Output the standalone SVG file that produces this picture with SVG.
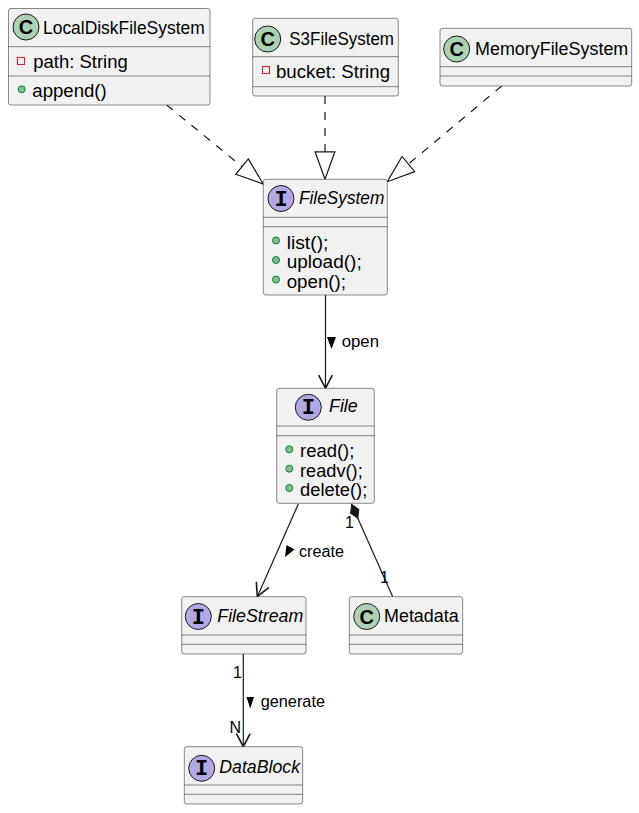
<svg xmlns="http://www.w3.org/2000/svg" width="639" height="813" viewBox="0 0 639 813">
<style>
.box{fill:#F1F1F1;stroke:#181818;stroke-width:0.5}
.sep{stroke:#181818;stroke-width:0.5}
.t{font-family:"Liberation Sans",Arial,sans-serif;font-size:17.5px;fill:#000}
.it{font-style:italic}
.lbl{font-family:"Liberation Sans",Arial,sans-serif;font-size:16px;fill:#000}
.cc{fill:#ADD1B2;stroke:#181818;stroke-width:1}
.ci{fill:#B4A7E5;stroke:#181818;stroke-width:1}
.cg{font-family:"Liberation Sans",Arial,sans-serif;font-size:20px;font-weight:bold;fill:#000;text-anchor:middle}
.ig{font-family:"Liberation Mono","Courier New",monospace;font-size:22px;font-weight:bold;fill:#000;text-anchor:middle}
.priv{fill:none;stroke:#C82930;stroke-width:1.1}
.pub{fill:#84BE84;stroke:#038048;stroke-width:1}
.ln{fill:none;stroke:#181818;stroke-width:1.2}
.dash{stroke-dasharray:8,8}
</style>
<defs>
<marker id="arr" markerUnits="userSpaceOnUse" markerWidth="16" markerHeight="16" viewBox="0 0 14 14" refX="12.5" refY="7" orient="auto" overflow="visible">
<path d="M1,1 L12.5,7 L1,13" fill="none" stroke="#181818" stroke-width="1.4"/>
</marker>
<marker id="tri" markerUnits="userSpaceOnUse" markerWidth="30" markerHeight="22" viewBox="0 0 27 20" refX="26" refY="10" orient="auto" overflow="visible">
<path d="M1,1 L26,10 L1,19 Z" fill="#FFFFFF" stroke="#181818" stroke-width="1.1"/>
</marker>
<marker id="dia" markerUnits="userSpaceOnUse" markerWidth="18" markerHeight="12" viewBox="-1 -6 18 12" refX="0" refY="0" orient="auto" overflow="visible">
<path d="M0,0 L7.5,-4.5 L15,0 L7.5,4.5 Z" fill="#181818" stroke="#181818" stroke-width="1"/>
</marker>
</defs>
<rect width="639" height="813" fill="#FFFFFF"/>

<g id="connectors">
<path class="ln dash" d="M166.7,105 L263.3,184" marker-end="url(#tri)"/>
<path class="ln dash" d="M325,96 L325,179.3" marker-end="url(#tri)"/>
<path class="ln dash" d="M501.7,86 L387.3,181.7" marker-end="url(#tri)"/>
<path class="ln" d="M325.5,295 L325.5,388.3" marker-end="url(#arr)"/>
<polygon points="327,337 336,337 331.5,349" fill="#000"/>
<text class="lbl" x="341.7" y="347.3" textLength="37.3" lengthAdjust="spacingAndGlyphs">open</text>
<path class="ln" d="M298.3,504 L257.3,596.7" marker-end="url(#arr)"/>
<polygon points="286.5,545 294.5,549.5 285,557" fill="#000"/>
<text class="lbl" x="299" y="556.7" textLength="45" lengthAdjust="spacingAndGlyphs">create</text>
<path class="ln" d="M351.7,504.5 L392.7,596.7" marker-start="url(#dia)"/>
<text class="lbl" x="345" y="528.3">1</text>
<text class="lbl" x="380" y="583.3">1</text>
<path class="ln" d="M243.3,654 L243.3,746.7" marker-end="url(#arr)"/>
<polygon points="246.5,697 254,697 250.2,708.5" fill="#000"/>
<text class="lbl" x="260.7" y="706.7" textLength="64.3" lengthAdjust="spacingAndGlyphs">generate</text>
<text class="lbl" x="233" y="678.3">1</text>
<text class="lbl" x="229.5" y="733.3">N</text>
</g>

<g id="LocalDiskFileSystem">
<rect class="box" x="8.5" y="8.5" width="201.5" height="96.5" rx="2.5"/>
<line class="sep" x1="8.5" y1="46.7" x2="210" y2="46.7"/>
<line class="sep" x1="8.5" y1="76" x2="210" y2="76"/>
<circle class="cc" cx="26" cy="27" r="13"/>
<text class="cg" x="26" y="34">C</text>
<text class="t" x="43" y="34" textLength="161.7" lengthAdjust="spacingAndGlyphs">LocalDiskFileSystem</text>
<rect class="priv" x="17.5" y="57.5" width="7" height="7"/>
<text class="t" x="33.3" y="67.7" textLength="94.4" lengthAdjust="spacingAndGlyphs">path: String</text>
<circle class="pub" cx="21.7" cy="89.3" r="3.5"/>
<text class="t" x="32.3" y="96.7" textLength="74.4" lengthAdjust="spacingAndGlyphs">append()</text>
</g>

<g id="S3FileSystem">
<rect class="box" x="252.7" y="18.3" width="145.6" height="77.7" rx="2.5"/>
<line class="sep" x1="252.7" y1="56.7" x2="398.3" y2="56.7"/>
<line class="sep" x1="252.7" y1="86.7" x2="398.3" y2="86.7"/>
<circle class="cc" cx="267.7" cy="39" r="13"/>
<text class="cg" x="267.7" y="46">C</text>
<text class="t" x="289.3" y="45" textLength="104.7" lengthAdjust="spacingAndGlyphs">S3FileSystem</text>
<rect class="priv" x="262.5" y="66.5" width="7" height="7"/>
<text class="t" x="276" y="78.3" textLength="114" lengthAdjust="spacingAndGlyphs">bucket: String</text>
</g>

<g id="MemoryFileSystem">
<rect class="box" x="440" y="28.3" width="191.7" height="57.7" rx="2.5"/>
<line class="sep" x1="440" y1="66.7" x2="631.7" y2="66.7"/>
<line class="sep" x1="440" y1="76" x2="631.7" y2="76"/>
<circle class="cc" cx="456.7" cy="49" r="13"/>
<text class="cg" x="456.7" y="56">C</text>
<text class="t" x="475" y="55" textLength="153.3" lengthAdjust="spacingAndGlyphs">MemoryFileSystem</text>
</g>

<g id="FileSystem">
<rect class="box" x="263.3" y="179.3" width="124" height="115.7" rx="2.5"/>
<line class="sep" x1="263.3" y1="217.3" x2="387.3" y2="217.3"/>
<line class="sep" x1="263.3" y1="226.7" x2="387.3" y2="226.7"/>
<circle class="ci" cx="281" cy="198.5" r="13"/>
<text class="ig" x="281" y="205.5">I</text>
<text class="t it" x="299" y="204" textLength="85.3" lengthAdjust="spacingAndGlyphs">FileSystem</text>
<circle class="pub" cx="276" cy="240.5" r="3.5"/>
<text class="t" x="286.7" y="248.7" textLength="41.7" lengthAdjust="spacingAndGlyphs">list();</text>
<circle class="pub" cx="276" cy="260" r="3.5"/>
<text class="t" x="286.7" y="268.3" textLength="75" lengthAdjust="spacingAndGlyphs">upload();</text>
<circle class="pub" cx="276" cy="279.5" r="3.5"/>
<text class="t" x="286.7" y="288" textLength="59.3" lengthAdjust="spacingAndGlyphs">open();</text>
</g>

<g id="File">
<rect class="box" x="276.7" y="388.3" width="97.6" height="115" rx="2.5"/>
<line class="sep" x1="276.7" y1="426" x2="374.3" y2="426"/>
<line class="sep" x1="276.7" y1="435.7" x2="374.3" y2="435.7"/>
<circle class="ci" cx="308.3" cy="407.3" r="13"/>
<text class="ig" x="308.3" y="414.3">I</text>
<text class="t it" x="329" y="412.3" textLength="28.7" lengthAdjust="spacingAndGlyphs">File</text>
<circle class="pub" cx="289.3" cy="449.3" r="3.5"/>
<text class="t" x="300" y="457.3" textLength="54.3" lengthAdjust="spacingAndGlyphs">read();</text>
<circle class="pub" cx="289.3" cy="468.7" r="3.5"/>
<text class="t" x="300" y="476.7" textLength="62.7" lengthAdjust="spacingAndGlyphs">readv();</text>
<circle class="pub" cx="289.3" cy="488" r="3.5"/>
<text class="t" x="300" y="496" textLength="67.3" lengthAdjust="spacingAndGlyphs">delete();</text>
</g>

<g id="FileStream">
<rect class="box" x="181.7" y="596.7" width="124.3" height="57.3" rx="2.5"/>
<line class="sep" x1="181.7" y1="635" x2="306" y2="635"/>
<line class="sep" x1="181.7" y1="644.3" x2="306" y2="644.3"/>
<circle class="ci" cx="198.3" cy="616.5" r="13"/>
<text class="ig" x="198.3" y="623.5">I</text>
<text class="t it" x="217.3" y="621.7" textLength="86" lengthAdjust="spacingAndGlyphs">FileStream</text>
</g>

<g id="Metadata">
<rect class="box" x="349.3" y="596.7" width="113.4" height="57.3" rx="2.5"/>
<line class="sep" x1="349.3" y1="635" x2="462.7" y2="635"/>
<line class="sep" x1="349.3" y1="644.3" x2="462.7" y2="644.3"/>
<circle class="cc" cx="366.7" cy="616.5" r="13"/>
<text class="cg" x="366.7" y="623.5">C</text>
<text class="t" x="384" y="621.7" textLength="74.7" lengthAdjust="spacingAndGlyphs">Metadata</text>
</g>

<g id="DataBlock">
<rect class="box" x="184.3" y="746.7" width="118.4" height="57.3" rx="2.5"/>
<line class="sep" x1="184.3" y1="785" x2="302.7" y2="785"/>
<line class="sep" x1="184.3" y1="794.3" x2="302.7" y2="794.3"/>
<circle class="ci" cx="201.7" cy="768.3" r="13"/>
<text class="ig" x="201.7" y="775.3">I</text>
<text class="t it" x="219.3" y="773.3" textLength="80.7" lengthAdjust="spacingAndGlyphs">DataBlock</text>
</g>
</svg>
